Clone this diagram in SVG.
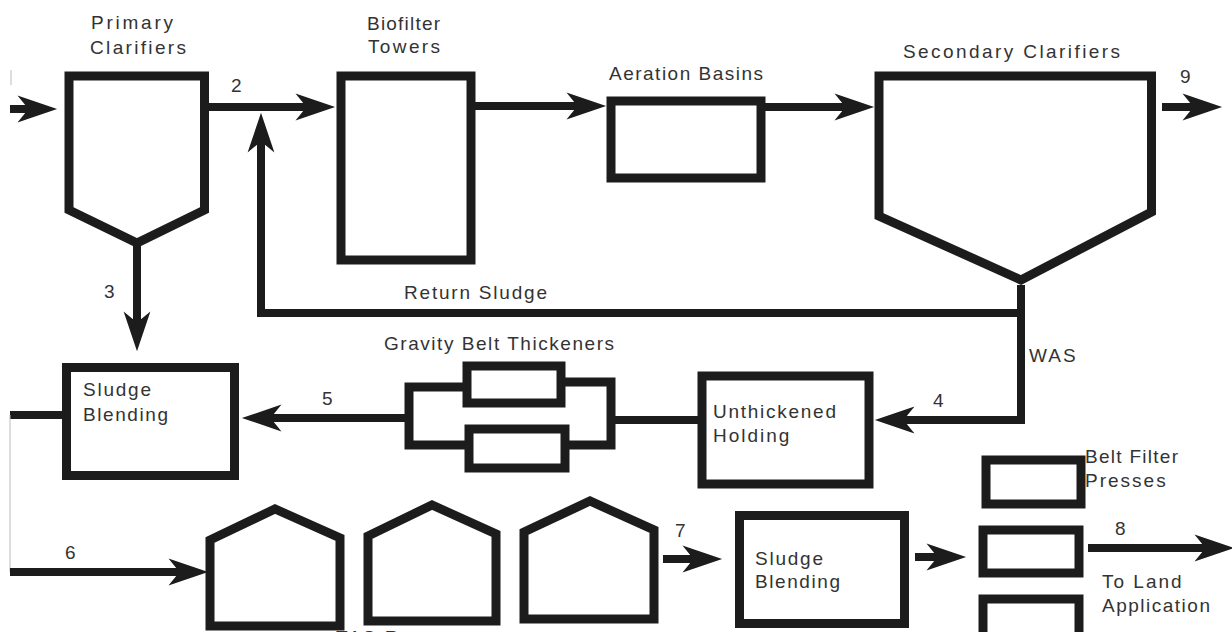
<svg xmlns="http://www.w3.org/2000/svg" width="1232" height="632" viewBox="0 0 1232 632">
<style>
.s{fill:none;stroke:#1c1c1c;stroke-width:9;stroke-linejoin:miter;stroke-miterlimit:10}
.c{fill:none;stroke:#1c1c1c;stroke-width:8}
.th{fill:none;stroke:#bbb;stroke-width:1}
.t{font-family:"Liberation Sans",Arial,sans-serif;font-size:19px;fill:#333;letter-spacing:2px}
</style>
<defs>
<marker id="ah" markerUnits="userSpaceOnUse" markerWidth="44" markerHeight="30" viewBox="-8 -14 40 28" refX="0" refY="0" orient="auto" overflow="visible">
<path d="M30,0 L-7,-12.5 L0,-4 L0,4 L-7,12.5 Z" fill="#1c1c1c"/>
</marker>
</defs>
<rect width="1232" height="632" fill="#fff"/>

<g id="primary-clarifiers">
<path class="s" d="M69,76 H204.5 V210 L137,243 L69,210 Z"/>
<text class="t" x="91" y="29" textLength="84" lengthAdjust="spacing">Primary</text>
<text class="t" x="90" y="54" textLength="98" lengthAdjust="spacing">Clarifiers</text>
</g>
<g id="biofilter-towers">
<rect class="s" x="341" y="76" width="130" height="184"/>
<text class="t" x="367" y="30" textLength="75" lengthAdjust="spacing">Biofilter</text>
<text class="t" x="368" y="53" textLength="74" lengthAdjust="spacing">Towers</text>
</g>
<g id="aeration-basins">
<rect class="s" x="611" y="101" width="150" height="77"/>
<text class="t" x="609" y="80" textLength="156" lengthAdjust="spacing">Aeration Basins</text>
</g>
<g id="secondary-clarifiers">
<path class="s" d="M879,76 H1151.5 V212 L1021,280 L879,216 Z"/>
<text class="t" x="903" y="58" textLength="219" lengthAdjust="spacing">Secondary Clarifiers</text>
</g>
<g id="sludge-blending-1">
<rect class="s" x="66.5" y="367.5" width="168" height="108"/>
<text class="t" x="83" y="396" textLength="70" lengthAdjust="spacing">Sludge</text>
<text class="t" x="83" y="421" textLength="87" lengthAdjust="spacing">Blending</text>
</g>
<g id="gravity-belt-thickeners">
<rect class="s" x="467" y="366" width="94" height="37"/>
<rect class="s" x="469" y="429" width="96" height="39"/>
<path class="s" d="M467,387 H409 V445 H469"/>
<path class="s" d="M561,382 H611 V445 H565"/>
<text class="t" x="384" y="350" textLength="232" lengthAdjust="spacing">Gravity Belt Thickeners</text>
</g>
<g id="unthickened-holding">
<rect class="s" x="702" y="376" width="167" height="108"/>
<text class="t" x="713" y="418" textLength="125" lengthAdjust="spacing">Unthickened</text>
<text class="t" x="713" y="442">Holding</text>
</g>
<g id="tas-reactors">
<path class="s" d="M210,540 L275,509 L340,538 V626 H210 Z"/>
<path class="s" d="M368,536 L432,505 L496,534 V621 H368 Z"/>
<path class="s" d="M524,532 L590,501 L654,530 V619 H524 Z"/>
<text class="t" x="336" y="644">TAS Reactors</text>
</g>
<g id="sludge-blending-2">
<rect class="s" x="739.5" y="515.5" width="165" height="108"/>
<text class="t" x="755" y="565" textLength="70" lengthAdjust="spacing">Sludge</text>
<text class="t" x="755" y="588" textLength="87" lengthAdjust="spacing">Blending</text>
</g>
<g id="belt-filter-presses">
<rect class="s" x="986" y="460" width="95" height="44"/>
<rect class="s" x="983" y="530" width="96" height="43"/>
<rect class="s" x="983" y="599" width="96" height="50"/>
<text class="t" x="1085" y="463" textLength="95" lengthAdjust="spacing">Belt Filter</text>
<text class="t" x="1085" y="487">Presses</text>
</g>
<g id="land-application">
<text class="t" x="1102" y="588">To Land</text>
<text class="t" x="1102" y="612" textLength="110" lengthAdjust="spacing">Application</text>
</g>

<g id="connectors">
<path class="th" d="M11,70 V85"/>
<path class="c" d="M10,109 H25" marker-end="url(#ah)"/>
<path class="c" d="M209,107 H303" marker-end="url(#ah)"/>
<path class="c" d="M475,106 H574" marker-end="url(#ah)"/>
<path class="c" d="M765,107 H842" marker-end="url(#ah)"/>
<path class="c" d="M1162,107 H1190" marker-end="url(#ah)"/>
<path class="c" d="M137,242 V319" marker-end="url(#ah)"/>
<path class="c" d="M1021,313 H261 V145" marker-end="url(#ah)"/>
<path class="c" d="M1021,285 V420 H907" marker-end="url(#ah)"/>
<path class="c" d="M698,420 H611"/>
<path class="c" d="M409,418 H274" marker-end="url(#ah)"/>
<path class="c" d="M62,415 H10"/>
<path class="th" d="M10,415 V572"/>
<path class="c" d="M10,572 H176" marker-end="url(#ah)"/>
<path class="c" d="M663,559 H690" marker-end="url(#ah)"/>
<path class="c" d="M915,557 H934" marker-end="url(#ah)"/>
<path class="c" d="M1088,548 H1202" marker-end="url(#ah)"/>
<text class="t" x="231" y="92">2</text>
<text class="t" x="1180" y="83">9</text>
<text class="t" x="104" y="298">3</text>
<text class="t" x="404" y="299" textLength="145" lengthAdjust="spacing">Return Sludge</text>
<text class="t" x="1029" y="362">WAS</text>
<text class="t" x="933" y="407">4</text>
<text class="t" x="322" y="405">5</text>
<text class="t" x="65" y="559">6</text>
<text class="t" x="675" y="537">7</text>
<text class="t" x="1115" y="535">8</text>
</g>
</svg>
